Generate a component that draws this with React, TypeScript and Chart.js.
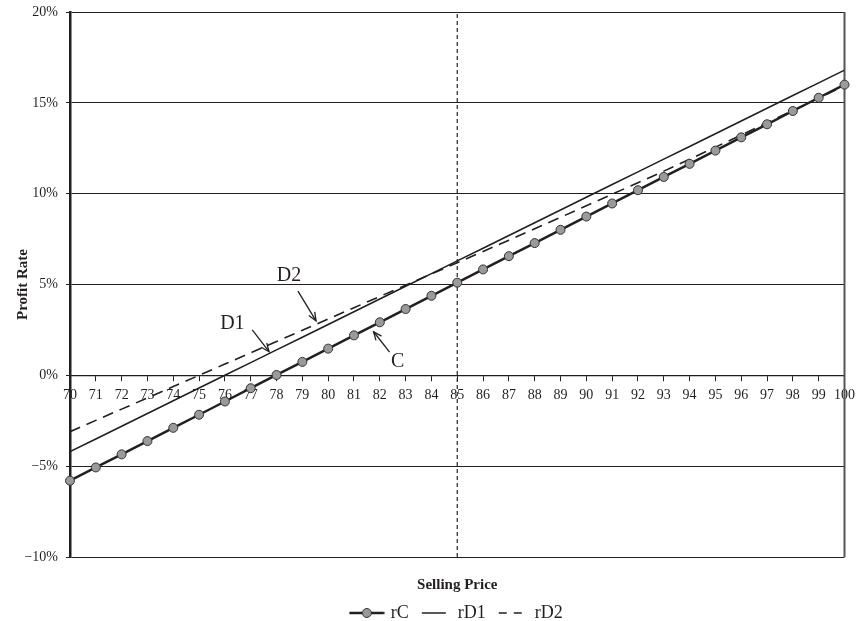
import React, { useEffect, useRef } from "react";
import { Chart, registerables } from "chart.js";

Chart.register(...registerables);

const prices = [70, 71, 72, 73, 74, 75, 76, 77, 78, 79, 80, 81, 82, 83, 84, 85, 86, 87, 88, 89, 90, 91, 92, 93, 94, 95, 96, 97, 98, 99, 100];
const rC = [-5.8, -5.07, -4.35, -3.62, -2.89, -2.17, -1.44, -0.71, 0.02, 0.74, 1.47, 2.2, 2.92, 3.65, 4.38, 5.1, 5.83, 6.56, 7.28, 8.01, 8.74, 9.46, 10.19, 10.92, 11.64, 12.37, 13.1, 13.82, 14.55, 15.28, 16.0];
const rD1 = [-4.2, -3.5, -2.8, -2.1, -1.4, -0.7, 0, 0.7, 1.4, 2.1, 2.8, 3.5, 4.2, 4.9, 5.6, 6.3, 7.0, 7.7, 8.4, 9.1, 9.8, 10.5, 11.2, 11.9, 12.6, 13.3, 14.0, 14.7, 15.4, 16.1, 16.8];
const rD2 = [-3.1, -2.48, -1.86, -1.24, -0.62, 0, 0.62, 1.24, 1.86, 2.48, 3.1, 3.72, 4.34, 4.96, 5.58, 6.2, 6.82, 7.44, 8.07, 8.7, 9.33, 9.97, 10.6, 11.24, 11.9, 12.56, 13.23, 13.9, 14.58, 15.26, 15.95];
const seriesNames = ["rC", "rD1", "rD2"];
const markerPrice = 85;
const yTicks = [-10, -5, 0, 5, 10, 15, 20];

// annotations: label text, label position, arrow start, arrow end (data coords)
const annotations = [
  { text: "D2", at: [78.48, 5.47], from: [78.83, 4.64], to: [79.53, 3.0] },
  { text: "D1", at: [76.29, 2.83], from: [77.06, 2.5], to: [77.71, 1.3] },
  { text: "C", at: [82.69, 0.73], from: [82.38, 1.28], to: [81.76, 2.4] },
];

const FONT = "'Liberation Serif', 'Times New Roman', serif";
const INK = "#231f20";

function makeMarker(kind: string): HTMLCanvasElement {
  const c = document.createElement("canvas");
  const W = 36;
  const w = kind === "rC" ? 35 : 24;
  c.width = W;
  c.height = 12;
  const ctx = c.getContext("2d")!;
  const x0 = (W - w) / 2;
  ctx.strokeStyle = INK;
  ctx.lineWidth = kind === "rC" ? 2.5 : 1.5;
  if (kind === "rD2") ctx.setLineDash([8, 7]);
  ctx.beginPath();
  ctx.moveTo(x0, 6);
  ctx.lineTo(x0 + w, 6);
  ctx.stroke();
  if (kind === "rC") {
    ctx.setLineDash([]);
    ctx.beginPath();
    ctx.arc(W / 2, 6, 4.5, 0, Math.PI * 2);
    ctx.fillStyle = "#9a9a9a";
    ctx.fill();
    ctx.lineWidth = 1;
    ctx.strokeStyle = "#333";
    ctx.stroke();
  }
  return c;
}

const framePlugin = {
  id: "frame",
  afterLayout(chart: any) {
    // center the legend under the plot area rather than the whole canvas
    const lg = chart.legend;
    if (lg) {
      const shift = (chart.chartArea.left + chart.chartArea.right) / 2 - (lg.left + lg.right) / 2;
      lg.left += shift;
      lg.right += shift;
    }
  },
  beforeDatasetsDraw(chart: any) {
    const { ctx, chartArea } = chart;
    ctx.save();
    ctx.strokeStyle = "#555";
    ctx.lineWidth = 2;
    ctx.beginPath();
    ctx.moveTo(chartArea.right, chartArea.top);
    ctx.lineTo(chartArea.right, chartArea.bottom);
    ctx.stroke();
    ctx.restore();
  },
};

const annotationPlugin = {
  id: "annots",
  afterDatasetsDraw(chart: any) {
    const { ctx } = chart;
    const xs = chart.scales.x;
    const ys = chart.scales.y;
    ctx.save();
    ctx.fillStyle = INK;
    ctx.strokeStyle = INK;
    ctx.font = `20px ${FONT}`;
    ctx.textAlign = "center";
    ctx.textBaseline = "middle";
    for (const a of annotations) {
      const lx = xs.getPixelForValue(a.at[0]);
      const ly = ys.getPixelForValue(a.at[1]);
      ctx.fillText(a.text, lx, ly);
      const x1 = xs.getPixelForValue(a.from[0]);
      const y1 = ys.getPixelForValue(a.from[1]);
      const x2 = xs.getPixelForValue(a.to[0]);
      const y2 = ys.getPixelForValue(a.to[1]);
      ctx.lineWidth = 1.3;
      ctx.beginPath();
      ctx.moveTo(x1, y1);
      ctx.lineTo(x2, y2);
      ctx.stroke();
      const ang = Math.atan2(y2 - y1, x2 - x1);
      const hl = 9;
      ctx.beginPath();
      ctx.moveTo(x2 - hl * Math.cos(ang - 0.4), y2 - hl * Math.sin(ang - 0.4));
      ctx.lineTo(x2, y2);
      ctx.lineTo(x2 - hl * Math.cos(ang + 0.4), y2 - hl * Math.sin(ang + 0.4));
      ctx.stroke();
    }
    ctx.restore();
  },
};

export default function App() {
  const ref = useRef<HTMLCanvasElement>(null);
  useEffect(() => {
    if (!ref.current) return;
    const toPts = (arr: number[]) => prices.map((p, i) => ({ x: p, y: arr[i] }));
    const markers = seriesNames.map((n) => makeMarker(n));
    const chart = new Chart(ref.current, {
      type: "line",
      data: {
        datasets: [
          {
            label: seriesNames[0],
            data: toPts(rC),
            borderColor: INK,
            borderWidth: 2.5,
            pointRadius: 4.5,
            pointBackgroundColor: "#9a9a9a",
            pointBorderColor: "#333",
            pointBorderWidth: 1,
            tension: 0,
            clip: false as any,
            order: 1,
          },
          {
            label: seriesNames[1],
            data: toPts(rD1),
            borderColor: INK,
            borderWidth: 1.6,
            pointRadius: 0,
            tension: 0,
            order: 2,
          },
          {
            label: seriesNames[2],
            data: toPts(rD2),
            borderColor: INK,
            borderWidth: 1.6,
            borderDash: [11, 7],
            pointRadius: 0,
            tension: 0,
            order: 3,
          },
          {
            label: "marker",
            data: [
              { x: markerPrice, y: yTicks[0] },
              { x: markerPrice, y: yTicks[yTicks.length - 1] },
            ],
            borderColor: INK,
            borderWidth: 1.2,
            borderDash: [4, 3],
            pointRadius: 0,
            order: 4,
          },
        ],
      },
      options: {
        responsive: false,
        animation: false,
        layout: { padding: { left: 0, right: 14, top: 12, bottom: -11 } },
        plugins: {
          tooltip: { enabled: false },
          legend: {
            position: "bottom",
            labels: {
              usePointStyle: true,
              pointStyleWidth: 30,
              padding: 10,
              color: INK,
              font: { family: FONT, size: 18 },
              generateLabels: () =>
                seriesNames.map((n, i) => ({
                  text: n,
                  datasetIndex: i,
                  pointStyle: markers[i] as any,
                  fontColor: INK,
                  hidden: false,
                  lineWidth: 0,
                  strokeStyle: "transparent",
                  fillStyle: "transparent",
                })),
            } as any,
          },
        },
        scales: {
          x: {
            type: "linear",
            min: prices[0],
            max: prices[prices.length - 1],
            position: { y: 0 } as any,
            grid: { drawOnChartArea: false, drawTicks: true, tickLength: 5, color: INK },
            border: { display: true, color: INK, width: 1.2 },
            ticks: {
              stepSize: 1,
              autoSkip: false,
              maxRotation: 0,
              color: INK,
              padding: 7,
              font: { family: FONT, size: 14 },
            },
          },
          x2: {
            type: "linear",
            position: "bottom",
            min: prices[0],
            max: prices[prices.length - 1],
            grid: { display: false },
            border: { display: false },
            ticks: { display: false },
            title: {
              display: true,
              text: "Selling Price",
              color: INK,
              font: { family: FONT, size: 15, weight: "bold" },
              padding: { top: 0, bottom: 0 },
            },
            afterFit: (s: any) => {
              s.height = 37;
            },
          },
          y: {
            type: "linear",
            min: yTicks[0],
            max: yTicks[yTicks.length - 1],
            afterBuildTicks: (s: any) => {
              s.ticks = yTicks.map((v) => ({ value: v }));
            },
            grid: { color: INK, lineWidth: 1, tickLength: 4, drawTicks: true },
            border: { display: true, color: INK, width: 2.5 },
            ticks: {
              color: INK,
              padding: 8,
              font: { family: FONT, size: 14 },
              callback: (v: any) => (v < 0 ? "\u2212" + Math.abs(v) : String(v)) + "%",
            },
            title: {
              display: true,
              text: "Profit Rate",
              color: INK,
              font: { family: FONT, size: 15, weight: "bold" },
              padding: { top: 14, bottom: 0 },
            },
            afterFit: (s: any) => {
              s.width = 70;
              s.paddingTop = 0;
              s.paddingBottom = 0;
            },
          },
        },
      },
      plugins: [framePlugin, annotationPlugin],
    });
    return () => chart.destroy();
  }, []);
  return (
    <div style={{ position: "absolute", left: 0, top: 0, width: 862, height: 621 }}>
      <canvas ref={ref} width={862} height={621} style={{ display: "block", width: 862, height: 621 }} />
    </div>
  );
}
